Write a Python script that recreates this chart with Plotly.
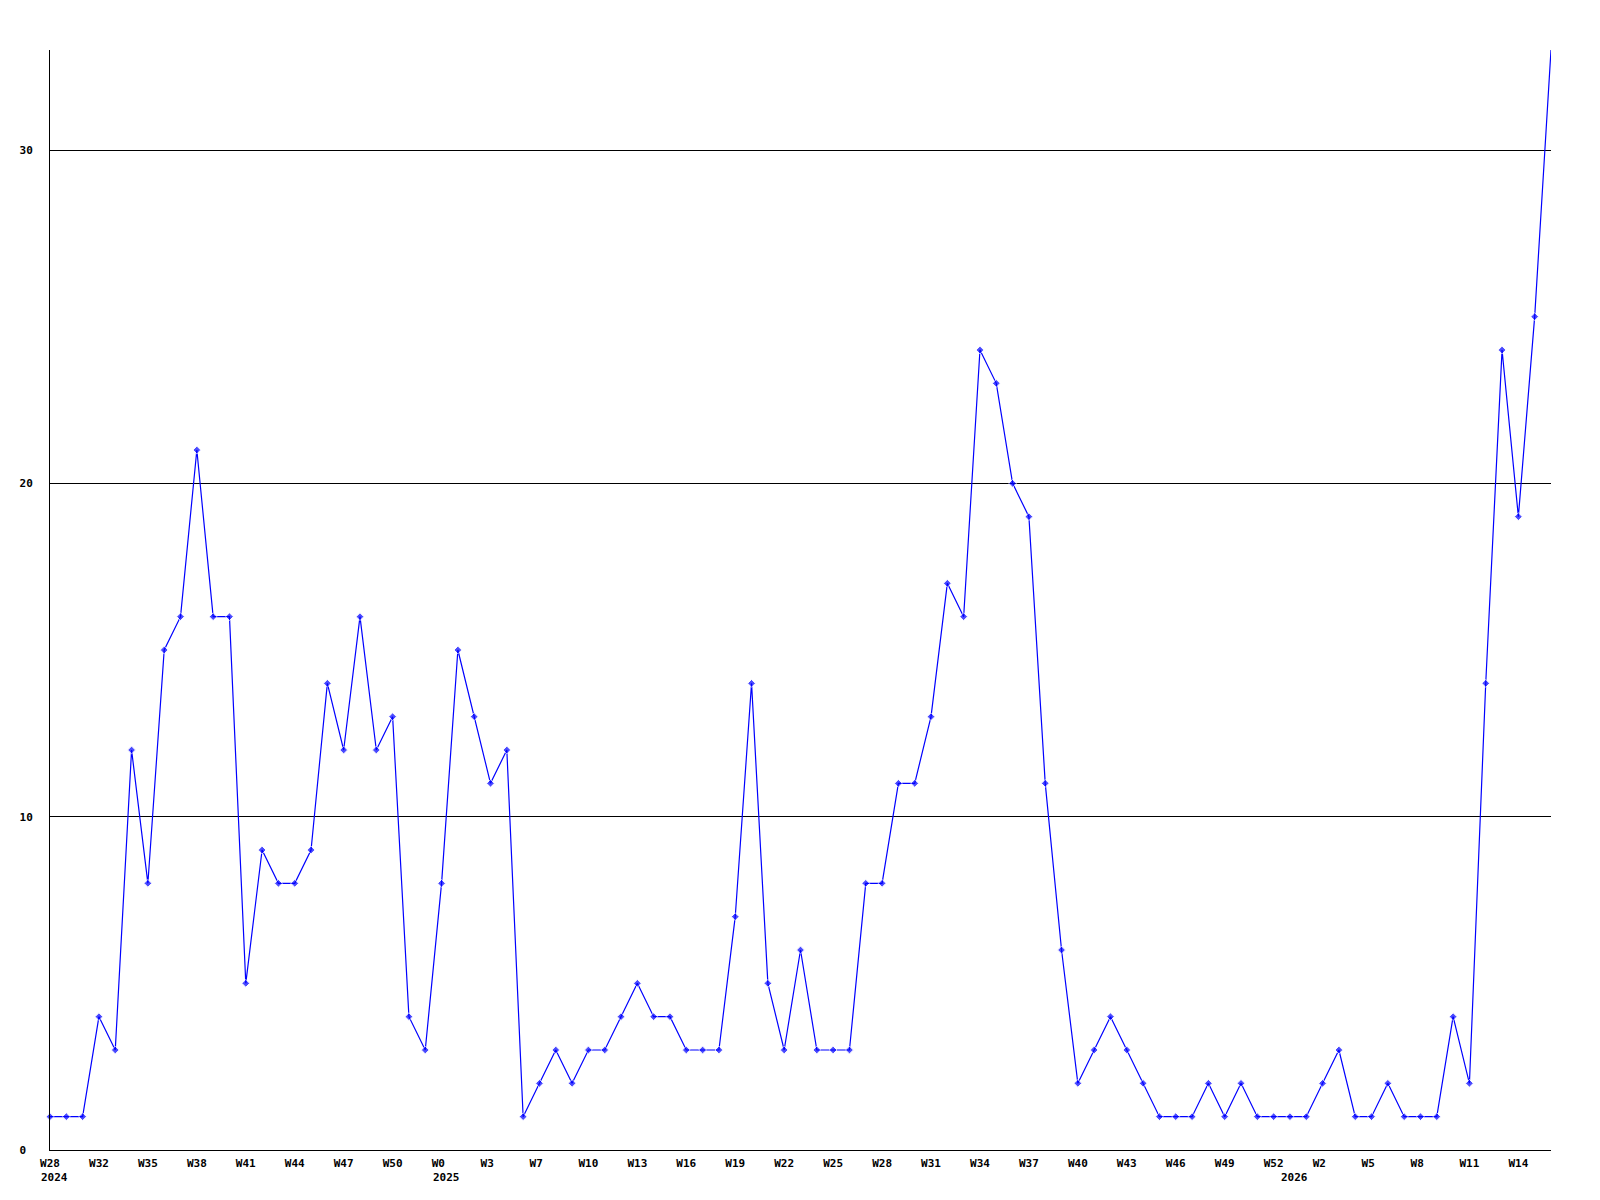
import plotly.graph_objects as go

values = [1, 1, 1, 4, 3, 12, 8, 15, 16, 21, 16, 16, 5, 9, 8, 8, 9, 14, 12, 16,
          12, 13, 4, 3, 8, 15, 13, 11, 12, 1, 2, 3, 2, 3, 3, 4, 5, 4, 4, 3,
          3, 3, 7, 14, 5, 3, 6, 3, 3, 3, 8, 8, 11, 11, 13, 17, 16, 24, 23, 20,
          19, 11, 6, 2, 3, 4, 3, 2, 1, 1, 1, 2, 1, 2, 1, 1, 1, 1, 2, 3,
          1, 1, 2, 1, 1, 1, 4, 2, 14, 24, 19, 25, 33]

week_tick_pos = [0, 3, 6, 9, 12, 15, 18, 21, 24, 27, 30, 33, 36, 39, 42, 45,
                 48, 51, 54, 57, 60, 63, 66, 69, 72, 75, 78, 81, 84, 87, 90]
week_tick_labels = ["W28", "W32", "W35", "W38", "W41", "W44", "W47", "W50",
                    "W0", "W3", "W7", "W10", "W13", "W16", "W19", "W22",
                    "W25", "W28", "W31", "W34", "W37", "W40", "W43", "W46",
                    "W49", "W52", "W2", "W5", "W8", "W11", "W14"]
year_pos = [0, 24, 76]
year_labels = ["2024", "2025", "2026"]

y_tick_vals = [0, 10, 20, 30]
y_tick_labels = ["0", "10", "20", "30"]

FONT = dict(family="DejaVu Sans Mono", size=11, color="black", weight="bold")

n = len(values)
x = list(range(n))
# the topmost (last) point sits on the plot border and shows no marker
marker_sizes = [6] * (n - 1) + [0]

fig = go.Figure()
fig.add_trace(go.Scatter(
    x=x, y=values, mode="lines+markers",
    line=dict(color="#0000ff", width=1.2),
    marker=dict(symbol="diamond", size=marker_sizes, color="#0000ff"),
    cliponaxis=False, showlegend=False,
))

fig.update_layout(
    width=1600, height=1200,
    margin=dict(l=42, r=57, t=42, b=58),
    paper_bgcolor="white", plot_bgcolor="white",
    font=FONT,
    xaxis=dict(
        range=[0, n - 1],
        tickmode="array", tickvals=week_tick_pos,
        ticktext=[t.ljust(3, "\u00a0") for t in week_tick_labels],
        ticks="", showgrid=False, zeroline=False,
        showline=True, linecolor="black", linewidth=1,
        tickfont=FONT, ticklabelstandoff=3, automargin=False,
    ),
    yaxis=dict(
        range=[0, 33],
        tickmode="array", tickvals=y_tick_vals,
        ticktext=[t.ljust(2, "\u00a0") for t in y_tick_labels],
        ticks="", showgrid=True, gridcolor="black", gridwidth=1,
        zeroline=False,
        showline=True, linecolor="black", linewidth=1,
        tickfont=FONT, ticklabelstandoff=14, automargin=False,
    ),
)

for p, lab in zip(year_pos, year_labels):
    fig.add_annotation(
        x=p, y=0, xref="x", yref="paper",
        text=lab, showarrow=False,
        xanchor="left", yanchor="top",
        xshift=-11, yshift=-19,
        font=FONT,
    )

fig.write_html("out.html")
